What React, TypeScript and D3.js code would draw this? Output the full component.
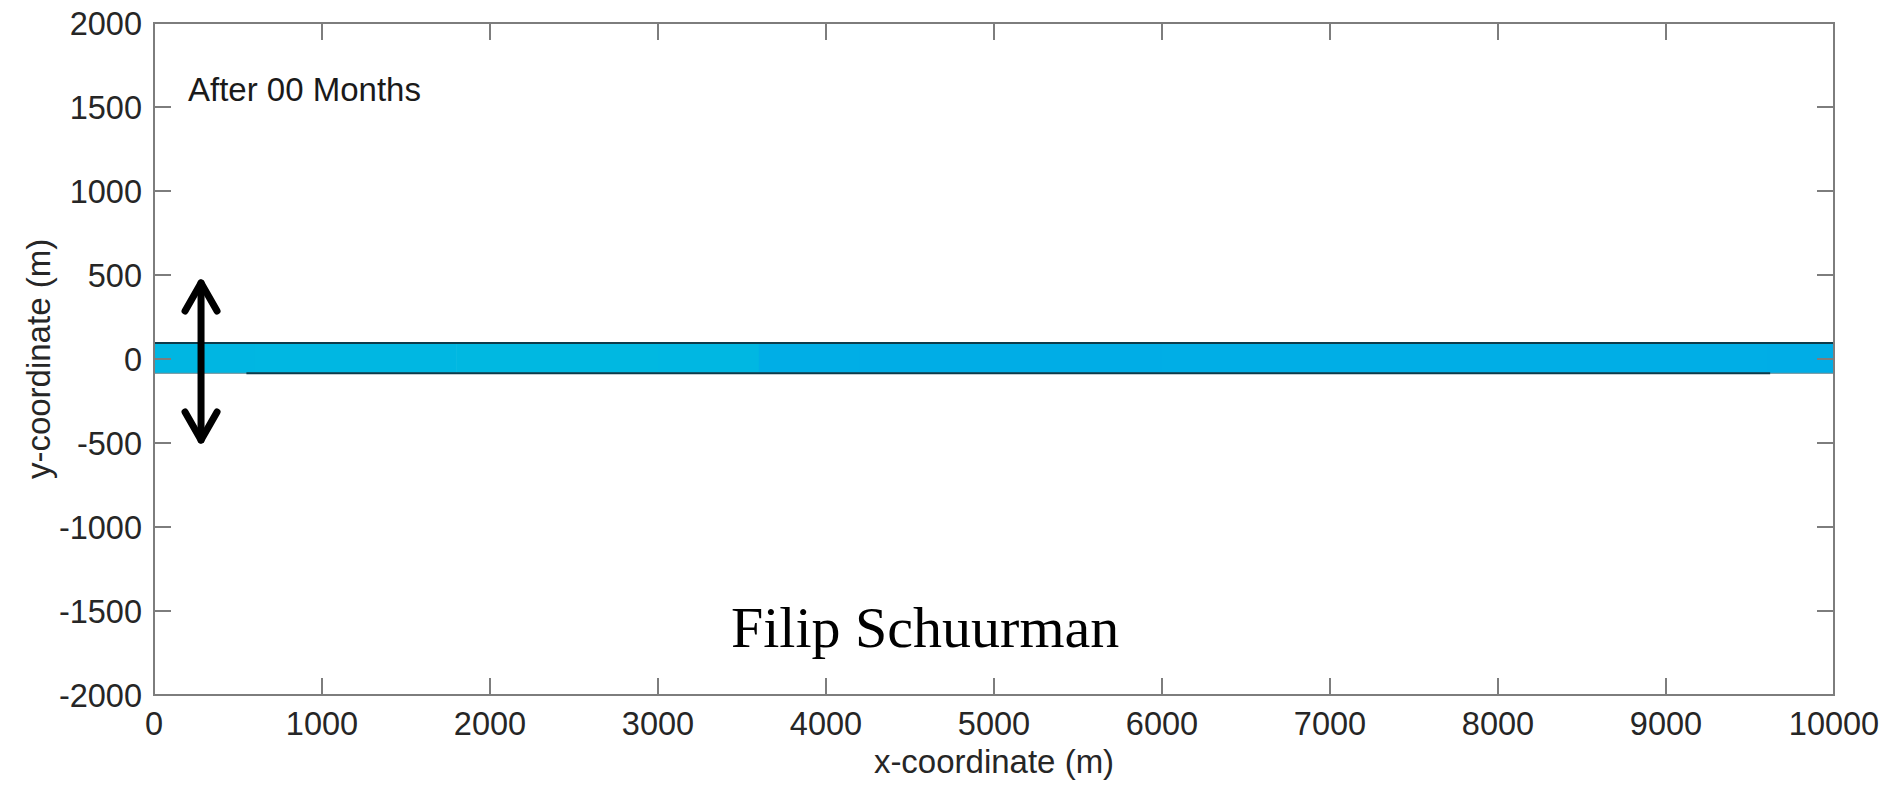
import React from "react";
import * as d3 from "d3";

const xTicks = [0, 1000, 2000, 3000, 4000, 5000, 6000, 7000, 8000, 9000, 10000];
const yTicks = [-2000, -1500, -1000, -500, 0, 500, 1000, 1500, 2000];
const xDomain = [0, 10000];
const yDomain = [-2000, 2000];

// channel segments: start x, end x (m), relative depth value
const segStart = [0, 600, 1800, 3000, 3600, 4200, 6000, 8000, 9600];
const segEnd = [600, 1800, 3000, 3600, 4200, 6000, 8000, 9600, 10000];
const segDepth = [0.45, 0.42, 0.38, 0.4, 0.7, 0.72, 0.68, 0.7, 0.72];
const channelTop = 95;
const channelBottom = -85;
const bottomEdgeStart = 550;
const bottomEdgeEnd = 9620;

const arrowX = 280;
const arrowTop = 470;
const arrowBottom = -500;

const annotation = "After 00 Months";
const watermark = "Filip Schuurman";
const xLabel = "x-coordinate (m)";
const yLabel = "y-coordinate (m)";

export default function App() {
  const W = 1884, H = 785;
  const L = 154, R = 1834, T = 23, B = 695;
  const x = d3.scaleLinear().domain(xDomain).range([L, R]);
  const y = d3.scaleLinear().domain(yDomain).range([B, T]);
  const color = d3.scaleLinear<string>().domain([0, 1]).range(["#00c4dc", "#00a4ea"]);
  const axisColor = "#7d7d7d";
  const textColor = "#262626";
  const tickLen = 17;
  const font = "Liberation Sans, Arial, sans-serif";
  const arrowHead = 16;
  const ax = x(arrowX);
  const at = y(arrowTop);
  const ab = y(arrowBottom);

  return (
    <svg width={W} height={H} style={{ position: "absolute", left: 0, top: 0, background: "#fff" }}>
      {/* channel */}
      {segStart.map((s, i) => (
        <rect key={i} x={x(s)} y={y(channelTop)} width={x(segEnd[i]) - x(s) + 0.5}
          height={y(channelBottom) - y(channelTop)} fill={color(segDepth[i])} />
      ))}
      <line x1={x(0)} x2={x(10000)} y1={y(channelTop)} y2={y(channelTop)} stroke="#0d3b4a" strokeWidth={2} />
      <line x1={x(0)} x2={x(10000)} y1={y(channelBottom)} y2={y(channelBottom)} stroke="#6c8a94" strokeWidth={1} />
      <line x1={x(bottomEdgeStart)} x2={x(bottomEdgeEnd)} y1={y(channelBottom)} y2={y(channelBottom)} stroke="#0d3b4a" strokeWidth={2} />

      {/* axes box */}
      <rect x={L} y={T} width={R - L} height={B - T} fill="none" stroke={axisColor} strokeWidth={2} />
      {xTicks.map((t) => (
        <g key={"x" + t}>
          <line x1={x(t)} x2={x(t)} y1={B} y2={B - tickLen} stroke={axisColor} strokeWidth={2} />
          <line x1={x(t)} x2={x(t)} y1={T} y2={T + tickLen} stroke={axisColor} strokeWidth={2} />
          <text x={x(t)} y={B + 40} textAnchor="middle" fontFamily={font} fontSize={32.5} fill={textColor}>{t}</text>
        </g>
      ))}
      {yTicks.map((t) => (
        <g key={"y" + t}>
          <line x1={L} x2={L + tickLen} y1={y(t)} y2={y(t)} stroke={axisColor} strokeWidth={2} />
          <line x1={R} x2={R - tickLen} y1={y(t)} y2={y(t)} stroke={axisColor} strokeWidth={2} />
          <text x={L - 12} y={y(t) + 11.5} textAnchor="end" fontFamily={font} fontSize={32.5} fill={textColor}>{t}</text>
        </g>
      ))}

      {/* axis labels */}
      <text x={(L + R) / 2} y={773} textAnchor="middle" fontFamily={font} fontSize={33} fill={textColor}>{xLabel}</text>
      <text transform={`translate(50, ${(T + B) / 2}) rotate(-90)`} textAnchor="middle" fontFamily={font} fontSize={33} fill={textColor}>{yLabel}</text>

      {/* annotation */}
      <text x={188} y={100.5} fontFamily={font} fontSize={33} fill="#1a1a1a">{annotation}</text>

      {/* double arrow */}
      <g stroke="#000" strokeWidth={7} strokeLinecap="round" strokeLinejoin="round" fill="none">
        <line x1={ax} x2={ax} y1={at + 3} y2={ab - 3} />
        <polyline points={`${ax - arrowHead},${at + 31} ${ax},${at + 3} ${ax + arrowHead},${at + 31}`} />
        <polyline points={`${ax - arrowHead},${ab - 31} ${ax},${ab - 3} ${ax + arrowHead},${ab - 31}`} />
      </g>

      {/* watermark */}
      <text x={731} y={647} fontFamily="Liberation Serif, Times New Roman, serif" fontSize={58} fill="#000">{watermark}</text>
    </svg>
  );
}
